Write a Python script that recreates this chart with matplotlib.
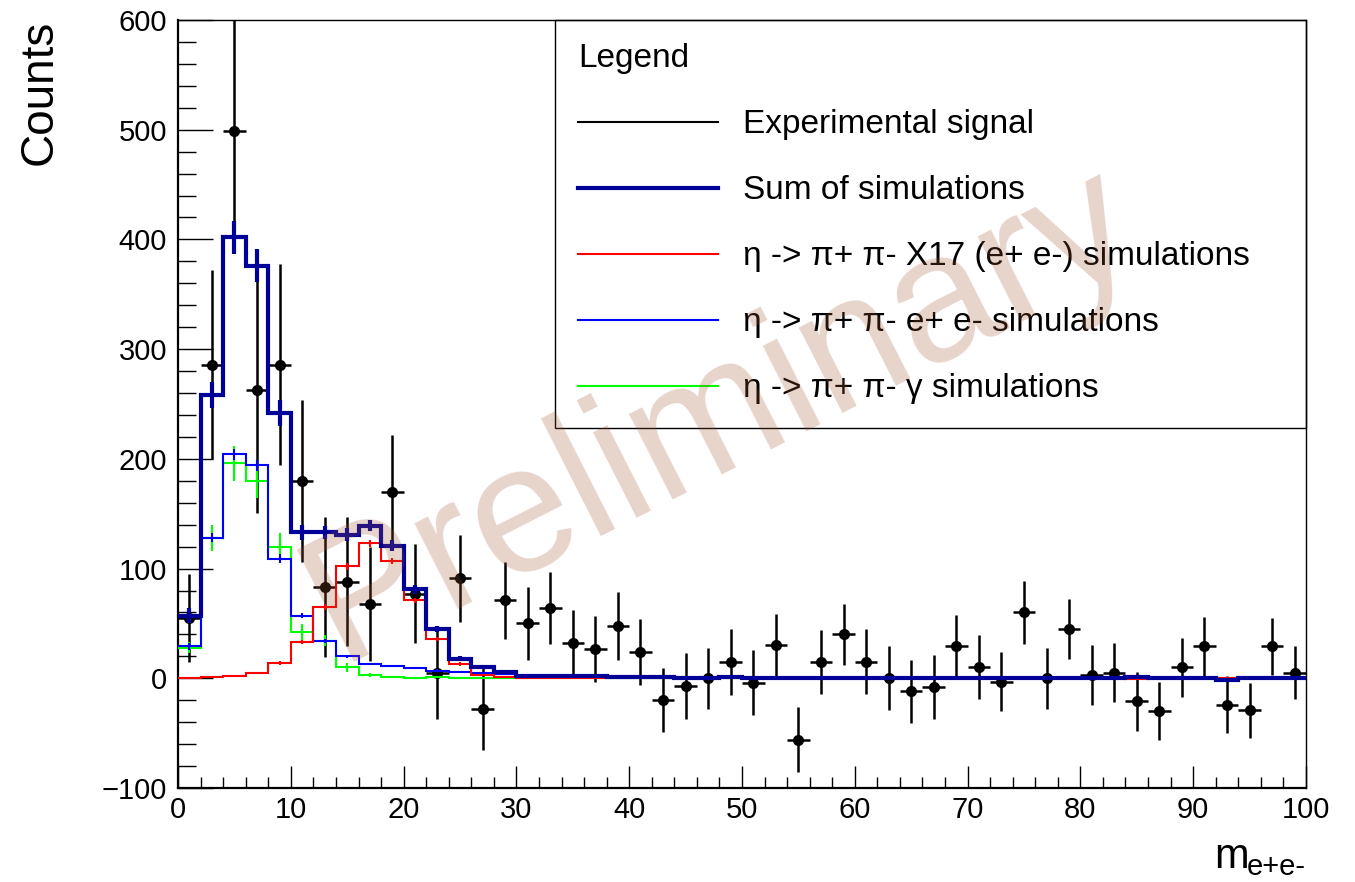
import matplotlib
matplotlib.use('Agg')
import matplotlib.pyplot as plt
import numpy as np
from matplotlib.lines import Line2D
from matplotlib.ticker import MultipleLocator

plt.rcParams['font.family'] = ['Liberation Sans', 'DejaVu Sans']

# bins of 2 from 0 to 100
edges = np.arange(0, 101, 2)
centers = np.arange(1, 100, 2)

data = [55, 286, 499, 263, 286, 180, 83, 88, 68, 170,
        77, 5, 91, -28, 71, 50, 64, 32, 27, 48,
        24, -20, -7, 0, 15, -4, 30, -56, 15, 40,
        15, 0, -12, -8, 29, 10, -3, 60, 0, 45,
        3, 5, -21, -30, 10, 29, -24, -29, 29, 5]
data_err = [40, 86, 105, 112, 92, 74, 64, 59, 52, 52,
            45, 42, 40, 37, 35, 33, 33, 30, 30, 31,
            30, 29, 30, 28, 30, 29.5, 29, 29.5, 29, 28,
            29.5, 29, 29, 29, 28.5, 29, 27, 28.5, 28, 27.5,
            27, 27, 27, 26.5, 27, 26.5, 26, 25, 26, 24]

sim_sum = [57, 258, 402, 376, 242, 133, 133, 131, 139, 121,
           81, 45, 18, 10, 6, 2.5, 2, 2, 2, 1.2,
           1.2, 1.2, 0.3, 0.3, 1.5, 0.5, 0.5, 0.5, 0.5, 0.5,
           0.5, 0.5, 0.5, 0.5, 0.5, 0.5, 0.5, 0.5, 0.5, 0.5,
           0.5, 0.5, 1.5, 0.5, 0.5, 0.5, -1.5, 0.5, 0.5, 0.5]
sim_sum_err = [7, 12, 15, 15, 12, 7, 6, 6, 5, 5,
               4, 3, 2, 1.5, 1, 1, 1, 1, 1, 1,
               1, 1, 1, 1, 1, 1, 1, 1, 1, 1,
               1, 1, 1, 1, 1, 1, 1, 1, 1, 1,
               1, 1, 1, 1, 1, 1, 1, 1, 1, 1]

x17 = [0, 1, 2, 5, 14, 33, 65, 102, 123, 107,
       71, 36, 13, 3, 1, 0.5, 0.3, 0.2, 0.2, 0.1,
       0.1, 0, 0, 0, 0, 0, 0, 0, 0, 0,
       0, 0, 0, 0, 0, 0, 0, 0, 0, 0,
       0, 0, -0.8, 0, 0, 0, 0, 0, 0, 0]
x17_err = [0.3, 0.5, 0.8, 1, 1.5, 2, 2.5, 3, 3, 3,
           2.5, 2, 1.5, 0.8, 0.5, 0.3, 0.3, 0.3, 0.3, 0.3,
           0.3, 0.3, 0.3, 0.3, 0.3, 0.3, 0.3, 0.3, 0.3, 0.3,
           0.3, 0.3, 0.3, 0.3, 0.3, 0.3, 0.3, 0.3, 0.3, 0.3,
           0.3, 0.3, 0.3, 0.3, 0.3, 0.3, 0.3, 0.3, 0.3, 0.3]

ee = [29, 128, 204, 194, 109, 57, 34, 20, 13, 11,
      9, 7, 6, 5, 4, 2, 1.5, 1.5, 1.5, 1,
      1, 1, 0.3, 0.3, 1, 0.5, 0.5, 0.5, 0.5, 0.5,
      0.5, 0.5, 0.5, 0.5, 0.5, 0.5, 0.5, 0.5, 0.5, 0.5,
      0.5, 0.5, 0.5, 0.5, 0.5, 0.5, -1.5, 0.5, 0.5, 0.5]
ee_err = [3, 4, 5, 5, 4, 2.5, 2, 1.5, 1, 1,
          1, 1, 0.8, 0.8, 0.8, 0.5, 0.5, 0.5, 0.5, 0.5,
          0.5, 0.5, 0.5, 0.5, 0.5, 0.5, 0.5, 0.5, 0.5, 0.5,
          0.5, 0.5, 0.5, 0.5, 0.5, 0.5, 0.5, 0.5, 0.5, 0.5,
          0.5, 0.5, 0.5, 0.5, 0.5, 0.5, 0.5, 0.5, 0.5, 0.5]

gamma = [28, 128, 196, 180, 120, 42, 34, 10, 3, 1,
         0, 1, 0, 0, 0.5, 0, 0, 0, 0, 0,
         0, 0, 0, 0, 0, 0, 0, 0, 0, 0,
         0, 0, 0, 0, 0, 0, 0, 0, 0, 0,
         0, 0, 0, 0, 0, 0, 0, 0, 0, 0]
gamma_err = [5, 12, 16, 16, 12.5, 7.5, 5, 4, 2, 1,
             0.5, 0.5, 0.5, 0.5, 0.5, 0.3, 0.3, 0.3, 0.3, 0.3,
             0.3, 0.3, 0.3, 0.3, 0.3, 0.3, 0.3, 0.3, 0.3, 0.3,
             0.3, 0.3, 0.3, 0.3, 0.3, 0.3, 0.3, 0.3, 0.3, 0.3,
             0.3, 0.3, 0.3, 0.3, 0.3, 0.3, 0.3, 0.3, 0.3, 0.3]

labels = ['Experimental signal', 'Sum of simulations',
          'η -> π+ π- X17 (e+ e-) simulations',
          'η -> π+ π- e+ e- simulations',
          'η -> π+ π- γ simulations']

navy = '#000099'
green = '#00ff00'

fig = plt.figure(figsize=(13.55, 8.82), dpi=100)
ax = fig.add_axes([0.1314, 0.1066, 0.8324, 0.8707])

# experimental points
ax.errorbar(centers, data, xerr=1, yerr=data_err, fmt='o', color='black',
            markersize=7, elinewidth=1.8, capsize=0, zorder=2)

# simulation histograms
for vals, errs, col, lw in [(gamma, gamma_err, green, 1.5),
                            (ee, ee_err, '#0000ff', 1.5),
                            (x17, x17_err, '#ff0000', 1.5),
                            (sim_sum, sim_sum_err, navy, 3)]:
    ax.stairs(vals, edges, baseline=None, color=col, linewidth=lw, zorder=3)
    ax.errorbar(centers, vals, yerr=errs, fmt='none', ecolor=col,
                elinewidth=lw, capsize=0, zorder=3)

ax.set_xlim(0, 100)
ax.set_ylim(-100, 600)
ax.xaxis.set_major_locator(MultipleLocator(10))
ax.xaxis.set_minor_locator(MultipleLocator(2))
ax.yaxis.set_major_locator(MultipleLocator(100))
ax.yaxis.set_minor_locator(MultipleLocator(20))
ax.tick_params(axis='y', which='major', direction='in', length=25, width=1,
               labelsize=21, pad=8)
ax.tick_params(axis='y', which='minor', direction='in', length=13, width=1)
ax.tick_params(axis='x', which='major', direction='in', length=16, width=1,
               labelsize=21, pad=6)
ax.tick_params(axis='x', which='minor', direction='in', length=8, width=1)
for s in ax.spines.values():
    s.set_linewidth(1)
ax.spines['left'].set_linewidth(1.6)
ax.spines['bottom'].set_linewidth(1.6)

handles = [Line2D([], [], color='black', lw=1.5),
           Line2D([], [], color=navy, lw=3),
           Line2D([], [], color='#ff0000', lw=1.5),
           Line2D([], [], color='#0000ff', lw=1.5),
           Line2D([], [], color=green, lw=1.5)]
leg = ax.legend(handles, labels, loc='upper left',
                bbox_to_anchor=(0.334, 1.0, 0.666, 0), mode='expand',
                borderaxespad=0, title='Legend', alignment='left',
                fontsize=24, title_fontsize=24, fancybox=False,
                edgecolor='black', framealpha=1, handlelength=4.2,
                handletextpad=0.75, labelspacing=1.05, borderpad=0.7)
leg.get_frame().set_linewidth(1)
leg.set_zorder(1)

# watermark
ax.text(48, 240, 'Preliminary', rotation=27, rotation_mode='anchor',
        ha='center', va='center', fontsize=130, color='sienna', alpha=0.25,
        zorder=10)

fig.text(40 / 1355, 1 - 20 / 882, 'Counts', rotation=90, ha='center',
         va='top', fontsize=33)
fig.text(1214 / 1355, 1 - 868 / 882, 'm', ha='left', va='baseline',
         fontsize=30)
fig.text(1247 / 1355, 1 - 875 / 882, 'e+e-', ha='left', va='baseline',
         fontsize=21)

fig.savefig('out.png', dpi=100)
